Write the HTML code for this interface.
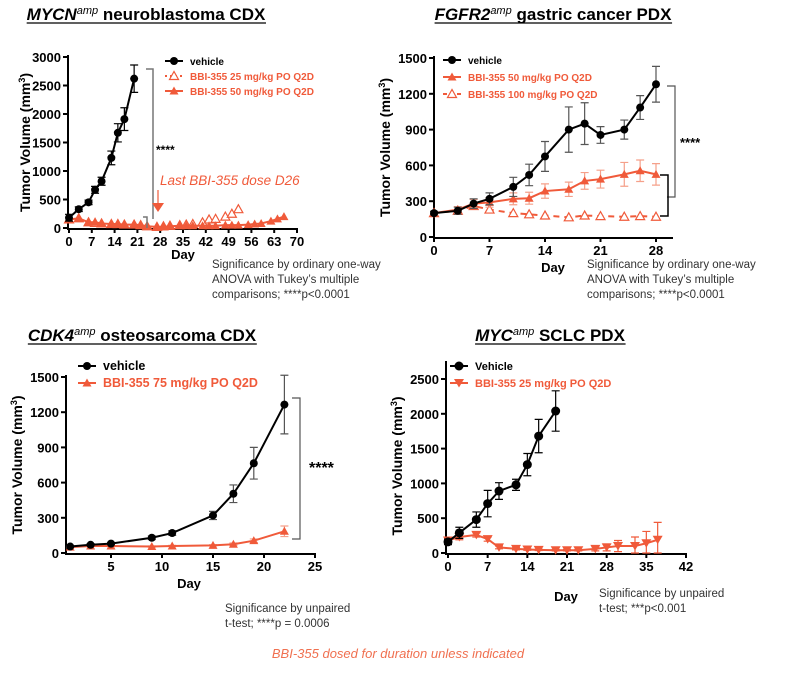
<!DOCTYPE html>
<html><head><meta charset="utf-8"><style>
body{margin:0;background:#fff;width:791px;height:671px;overflow:hidden}
svg text{font-family:"Liberation Sans",Arial,sans-serif}
</style></head><body>
<svg id="fig" width="791" height="671" viewBox="0 0 791 671">
<g id="p1"></g>
<g id="p2"></g>
<g id="p3"></g>
<g id="p4"></g>
<text x="398" y="658" text-anchor="middle" font-size="13" font-style="italic" fill="#f07050">BBI-355 dosed for duration unless indicated</text>
</svg>
<script>
// Panel 1: MYCN neuroblastoma
const p1VehDays=[0,3,6,8,10,13,15,17,20];
const p1Veh=[180,330,450,670,820,1230,1670,1910,2620];
const p1VehErr=[60,40,40,60,70,120,160,200,240];
const p1D25Days=[0,3,6,8,10,13,15,17,20,22,24,27,29,31,34,36,38,41,43,45,48,50,52];
const p1D25=[150,170,100,90,80,70,70,60,60,50,30,20,30,40,50,60,70,100,150,160,200,250,330];
const p1D50Days=[0,3,6,8,10,13,15,17,20,22,24,27,29,31,34,36,38,41,43,45,48,50,52,55,57,59,62,64,66];
const p1D50=[150,170,100,100,80,70,70,60,60,50,30,20,20,30,40,40,40,40,40,40,50,50,50,60,70,80,120,160,200];
const p1XTicks=[0,7,14,21,28,35,42,49,56,63,70];
const p1YTicks=[0,500,1000,1500,2000,2500,3000];
// Panel 2: FGFR2 gastric
const p2Days=[0,3,5,7,10,12,14,17,19,21,24,26,28];
const p2Veh=[200,220,280,320,420,520,675,900,950,855,900,1085,1280];
const p2VehErr=[15,30,40,50,80,90,125,190,175,70,80,100,150];
const p2D50=[200,230,280,290,320,325,385,400,470,485,525,555,525];
const p2D50Err=[15,25,35,40,50,50,60,60,70,75,100,90,90];
const p2D100=[200,220,260,230,200,190,180,165,180,175,170,175,170];
const p2XTicks=[0,7,14,21,28];
const p2YTicks=[0,300,600,900,1200,1500];
// Panel 3: CDK4 osteosarcoma
const p3Days=[1,3,5,9,11,15,17,19,22];
const p3Veh=[55,70,80,130,170,320,505,765,1265];
const p3VehErr=[5,10,10,15,20,35,75,135,250];
const p3Trt=[50,60,60,55,60,65,75,105,185];
const p3TrtErr=[5,5,5,5,5,5,10,15,45];
const p3XTicks=[5,10,15,20,25];
const p3YTicks=[0,300,600,900,1200,1500];
// Panel 4: MYC SCLC
const p4VehDays=[0,2,5,7,9,12,14,16,19];
const p4Veh=[160,290,480,710,890,980,1270,1680,2040];
const p4VehErr=[40,80,110,190,120,80,160,240,290];
const p4TrtDays=[0,2,5,7,9,12,14,16,19,21,23,26,28,30,33,35,37];
const p4Trt=[180,230,260,200,80,60,50,45,40,40,40,60,80,100,100,140,190];
const p4TrtErr=[40,40,30,30,20,15,10,10,10,10,10,30,50,80,130,170,250];
const p4XTicks=[0,7,14,21,28,35,42];
const p4YTicks=[0,500,1000,1500,2000,2500];

const NS="http://www.w3.org/2000/svg";
const RED="#f05a3a";
function el(parent,tag,attrs,text){const e=document.createElementNS(NS,tag);for(const k in attrs)e.setAttribute(k,attrs[k]);if(text!==undefined)e.textContent=text;parent.appendChild(e);return e;}
function axes(g,o){
  const sx=v=>o.x0+(v-o.xmin)/(o.xmax-o.xmin)*(o.x1-o.x0);
  const sy=v=>o.y0-(v-o.ymin)/(o.ymax-o.ymin)*(o.y0-o.y1);
  const ax=el(g,'g',{});
  
  
  el(ax,'line',{x1:o.ax,y1:o.y0+1,x2:o.ax,y2:o.yTop,stroke:'#000','stroke-width':2});
  el(ax,'line',{x1:o.ax-1,y1:o.y0+1,x2:o.xEnd,y2:o.y0+1,stroke:'#000','stroke-width':2});
  o.xt.forEach(t=>{el(ax,'line',{x1:sx(t),y1:o.y0,x2:sx(t),y2:o.y0+5,stroke:'#000','stroke-width':2});
    const tl=el(ax,'text',{x:sx(t),y:o.y0+18,'text-anchor':'middle','font-size':13,'font-weight':'bold'},t);
    });
  o.yt.forEach(t=>{el(ax,'line',{x1:o.ax-5,y1:sy(t),x2:o.ax,y2:sy(t),stroke:'#000','stroke-width':2});
    const tl=el(ax,'text',{x:o.ax-7,y:sy(t)+5,'text-anchor':'end','font-size':13,'font-weight':'bold'},t);
    });
  const xl=el(ax,'text',{x:o.xlx,y:o.xly,'text-anchor':'middle','font-size':13,'font-weight':'bold'},'Day');
  
  const yl=el(ax,'text',{transform:`translate(${o.ylx},${(o.y0+o.y1)/2}) rotate(-90)`,'text-anchor':'middle','font-size':14,'font-weight':'bold'});
  
  el(yl,'tspan',{},'Tumor Volume (mm');el(yl,'tspan',{dy:-5,'font-size':9},'3');el(yl,'tspan',{dy:5},')');
  return {sx,sy};
}
function marker(g,type,x,y,c,r){
  let m;
  if(type==='circle')m=el(g,'circle',{cx:x,cy:y,r:r||4,fill:c});
  else if(type==='tri')m=el(g,'polygon',{points:`${x},${y-4.5} ${x-4.5},${y+3.5} ${x+4.5},${y+3.5}`,fill:c});
  else if(type==='otri')m=el(g,'polygon',{points:`${x},${y-4.5} ${x-4.5},${y+3.5} ${x+4.5},${y+3.5}`,fill:'#fff',stroke:c,'stroke-width':1.2});
  else m=el(g,'polygon',{points:`${x},${y+4.5} ${x-5},${y-4} ${x+5},${y-4}`,fill:c});
  return m;
}
function series(g,name,s,days,vals,errs,type,c,opts){
  opts=opts||{};
  const sg=el(g,'g',{});
  
  
  if(errs)days.forEach((d,i)=>{const x=s.sx(d),y1=s.sy(vals[i]+errs[i]),y2=s.sy(Math.max(0,vals[i]-errs[i]));
    const eg=el(sg,'path',{d:`M${x},${y1}V${y2}M${x-4},${y1}H${x+4}M${x-4},${y2}H${x+4}`,stroke:opts.ec||c,'stroke-width':1.2,fill:'none'});
    });
  if(!opts.noLine){const pts=days.map((d,i)=>`${s.sx(d)},${s.sy(vals[i])}`).join(' ');
    el(sg,'polyline',{points:pts,fill:'none',stroke:c,'stroke-width':2,'stroke-dasharray':opts.dash||'none'});}
  days.forEach((d,i)=>{const m=marker(sg,type,s.sx(d),s.sy(vals[i]),c,opts.r);
    });
}
function legend(g,x,y,items,fs,gap){
  items.forEach((it,i)=>{const lg=el(g,'g',{});
    
    
    const yy=y+i*gap;
    el(lg,'line',{x1:x,y1:yy,x2:x+18,y2:yy,stroke:it.c,'stroke-width':2,'stroke-dasharray':it.dash||'none'});
    marker(lg,it.t,x+9,yy,it.c,it.r);
    el(lg,'text',{x:x+25,y:yy+4,'font-size':fs,'font-weight':'bold',fill:it.c},it.label);});
}
function title(g,cx,y,ital,rest){
  const t=el(g,'text',{x:cx,y:y,'text-anchor':'middle','font-size':17,'font-weight':'bold'});
  
  el(t,'tspan',{'font-style':'italic'},ital);el(t,'tspan',{dy:-6,'font-size':11,'font-style':'italic','font-weight':'normal'},'amp');el(t,'tspan',{dy:6},' '+rest);
  const bb=t.getBBox();
  el(g,'line',{x1:bb.x,y1:y+3,x2:bb.x+bb.width,y2:y+3,stroke:'#000','stroke-width':1.3});
}
function note(g,x,y,lines){
  const t=el(g,'g',{});
  lines.forEach((l,i)=>el(t,'text',{x:x,y:y+i*15,'font-size':11.5,fill:'#333'},l));
}
function stars(g,x,y,fs,s){const t=el(g,'text',{x:x,y:y,'font-size':fs,'font-weight':'bold'},s||'****');
  }

// Panel 1
(function(){const g=document.getElementById('p1');
  title(g,146,20,'MYCN','neuroblastoma CDX');
  const s=axes(g,{x0:69,x1:297,xmin:0,xmax:70,y0:228,y1:57,ymin:0,ymax:3000,ax:68,xEnd:298,yTop:55,xt:p1XTicks,yt:p1YTicks,xlx:183,xly:259,ylx:30});
  series(g,'series-25mg',s,p1D25Days,p1D25,null,'otri',RED,{noLine:true});
  series(g,'series-50mg',s,p1D50Days,p1D50,null,'tri',RED);
  series(g,'series-vehicle',s,p1VehDays,p1Veh,p1VehErr,'circle','#000');
  legend(g,165,61,[{t:'circle',c:'#000',label:'vehicle'},{t:'otri',c:RED,label:'BBI-355 25 mg/kg PO Q2D',dash:'2,3'},{t:'tri',c:RED,label:'BBI-355 50 mg/kg PO Q2D'}],10,15);
  el(g,'path',{d:'M146,69H153V219M143,217H147V228',stroke:'#777','stroke-width':1.5,fill:'none'});
  stars(g,156,154,12);
  const a=el(g,'text',{x:160,y:185,'font-size':13.5,'font-style':'italic',fill:RED},'Last BBI-355 dose D26');
  
  el(g,'path',{d:'M158,190V204',stroke:RED,'stroke-width':1.2});
  el(g,'polygon',{points:'152,203 164,203 158,212',fill:RED});
  note(g,212,268,['Significance by ordinary one-way','ANOVA with Tukey\u2019s multiple','comparisons; ****p<0.0001']);
})();
// Panel 2
(function(){const g=document.getElementById('p2');
  title(g,553,20,'FGFR2','gastric cancer PDX');
  const s=axes(g,{x0:434,x1:656,xmin:0,xmax:28,y0:237,y1:58,ymin:0,ymax:1500,ax:434,xEnd:673,yTop:56,xt:p2XTicks,yt:p2YTicks,xlx:553,xly:272,ylx:390});
  series(g,'series-100mg',s,p2Days,p2D100,null,'otri',RED,{dash:'6,5'});
  series(g,'series-50mg',s,p2Days,p2D50,p2D50Err,'tri',RED,{ec:'#f5a08a'});
  series(g,'series-vehicle',s,p2Days,p2Veh,p2VehErr,'circle','#000',{ec:'#555'});
  legend(g,443,60,[{t:'circle',c:'#000',label:'vehicle'},{t:'tri',c:RED,label:'BBI-355 50 mg/kg PO Q2D'},{t:'otri',c:RED,label:'BBI-355 100 mg/kg PO Q2D',dash:'4,3'}],10,17);
  el(g,'path',{d:'M667,86H675V197H667',stroke:'#555','stroke-width':1.2,fill:'none'});
  el(g,'path',{d:'M660,175H668V216H660',stroke:'#000','stroke-width':1.5,fill:'none'});
  stars(g,680,147,13);
  note(g,587,268,['Significance by ordinary one-way','ANOVA with Tukey\u2019s multiple','comparisons; ****p<0.0001']);
})();
// Panel 3
(function(){const g=document.getElementById('p3');
  title(g,142,341,'CDK4','osteosarcoma CDX');
  const s=axes(g,{x0:60,x1:315,xmin:0,xmax:25,y0:553,y1:377,ymin:0,ymax:1500,ax:66,xEnd:316,yTop:375,xt:p3XTicks,yt:p3YTicks,xlx:189,xly:588,ylx:22});
  series(g,'series-75mg',s,p3Days,p3Trt,p3TrtErr,'tri',RED,{ec:'#f5a08a'});
  series(g,'series-vehicle',s,p3Days,p3Veh,p3VehErr,'circle','#000',{ec:'#555'});
  legend(g,78,366,[{t:'circle',c:'#000',label:'vehicle'},{t:'tri',c:RED,label:'BBI-355 75 mg/kg PO Q2D'}],12.5,17);
  el(g,'path',{d:'M292,398H300V539H292',stroke:'#555','stroke-width':1.2,fill:'none'});
  stars(g,309,473,16);
  note(g,225,612,['Significance by unpaired','t-test; ****p = 0.0006']);
})();
// Panel 4
(function(){const g=document.getElementById('p4');
  title(g,550,341,'MYC','SCLC PDX');
  const s=axes(g,{x0:448,x1:686,xmin:0,xmax:42,y0:553,y1:379,ymin:0,ymax:2500,ax:446,xEnd:687,yTop:361,xt:p4XTicks,yt:p4YTicks,xlx:566,xly:601,ylx:402});
  series(g,'series-25mg',s,p4TrtDays,p4Trt,p4TrtErr,'dtri',RED);
  series(g,'series-vehicle',s,p4VehDays,p4Veh,p4VehErr,'circle','#000',{r:4.5});
  legend(g,450,366,[{t:'circle',c:'#000',label:'Vehicle',r:4.5},{t:'dtri',c:RED,label:'BBI-355 25 mg/kg PO Q2D'}],11,17);
  note(g,599,597,['Significance by unpaired','t-test; ***p<0.001']);
})();
</script>
</body></html>
